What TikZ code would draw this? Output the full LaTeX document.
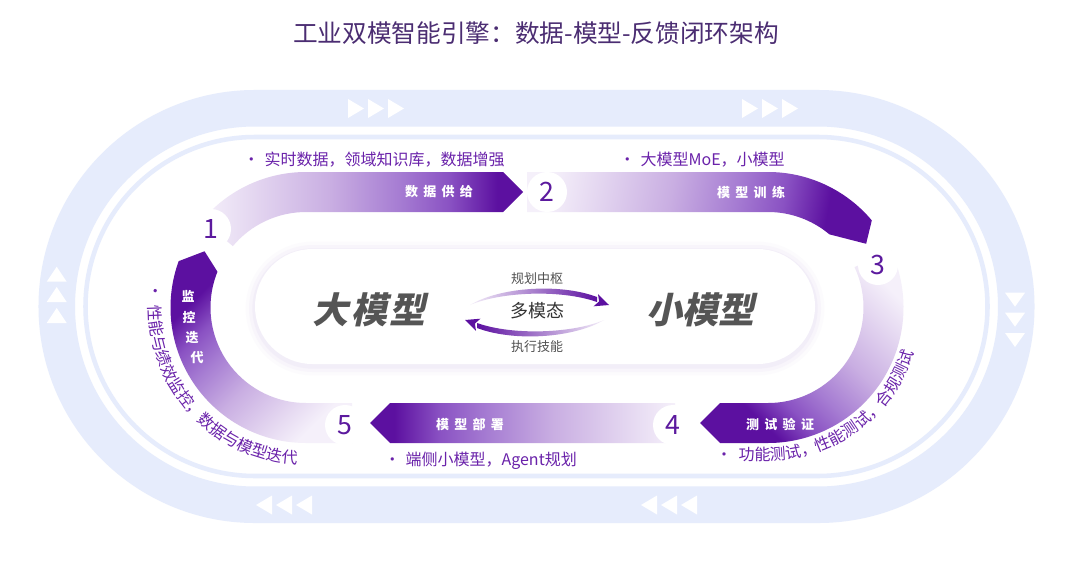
\documentclass[tikz,border=0pt]{standalone}
\usepackage{fontspec}
\setmainfont{Noto Sans CJK SC}
\newfontfamily\modelfont[FakeSlant=0.22]{Noto Sans CJK SC}
\usetikzlibrary{decorations.text,calc}
\definecolor{bandblue}{HTML}{E6ECFC}
\definecolor{segdark}{HTML}{5C10A0}
\definecolor{segdeep}{HTML}{8A52C3}
\definecolor{segmid}{HTML}{A57BD2}
\definecolor{segsoft}{HTML}{C9AEE2}
\definecolor{segpale}{HTML}{E5D8F1}
\definecolor{seglight}{HTML}{F5F0FA}
\definecolor{titlecol}{HTML}{4B2D72}
\definecolor{bulletcol}{HTML}{6A22AA}
\definecolor{numcol}{HTML}{5C1A9E}
\definecolor{modelgray}{HTML}{555555}
\definecolor{textgray}{HTML}{505050}
\definecolor{shadowcol}{HTML}{E4DBF1}
\pgfdeclarehorizontalshading{segshade}{100bp}{color(0bp)=(seglight); color(25bp)=(seglight); color(32.5bp)=(segpale); color(45bp)=(segsoft); color(56bp)=(segmid); color(63.5bp)=(segdeep); color(71bp)=(segdark); color(100bp)=(segdark)}
\tikzset{
  numcirc/.style={circle, fill=white, minimum size=30pt, inner sep=0pt, text=numcol, font=\fontsize{20}{20}\selectfont},
  seglabel/.style={text=white, inner sep=0pt, font=\fontsize{9.75}{10}\selectfont\bfseries},
  bullettext/.style={text=bulletcol, inner sep=0pt, anchor=west, font=\fontsize{12}{12}\selectfont},
  modeltext/.style={text=modelgray, inner sep=0pt, font=\modelfont\bfseries\fontsize{27}{28}\selectfont},
  centersmall/.style={text=textgray, inner sep=0pt, font=\fontsize{9.75}{10}\selectfont},
  centermid/.style={text=black!80, inner sep=0pt, font=\fontsize{13.5}{14}\selectfont},
  chev/.style={fill=white},
}
\begin{document}
\begin{tikzpicture}[x=0.75pt,y=0.75pt]
\useasboundingbox (0,0) rectangle (1080,-560);
\fill[white] (0,0) rectangle (1080,-560);

% title
\node[text=titlecol, inner sep=0pt, font=\fontsize{18.5}{20}\selectfont] (title) at (536,-33) {工业双模智能引擎：数据-模型-反馈闭环架构};

% outer band
\draw[bandblue, line width=27.4pt] (255,-108.25) -- (818,-108.25) arc[start angle=90,end angle=-90,radius=198.25] -- (255,-504.75) arc[start angle=270,end angle=90,radius=198.25] -- cycle;
\draw[bandblue, line width=3.4pt] (255,-137) -- (818,-137) arc[start angle=90,end angle=-90,radius=169.5] -- (255,-476) arc[start angle=270,end angle=90,radius=169.5] -- cycle;

% chevrons in the band
\foreach \x in {348,368,388,742,762,782} \fill[chev] (\x,-99) -- (\x+16,-108.5) -- (\x,-118) -- cycle;
\foreach \x in {256,276,296,641,661,681} \fill[chev] (\x,-505) -- (\x+16,-495.5) -- (\x+16,-514.5) -- cycle;
\foreach \y in {266.7,287,308} \fill[chev] (56.7,-\y) -- (66.7,-\y-15) -- (46.7,-\y-15) -- cycle;
\foreach \y in {292.7,312.7,333} \fill[chev] (1005,-\y) -- (1025,-\y) -- (1015,-\y-14) -- cycle;

% track centres
\coordinate (Lc) at (306,-307.5);
\coordinate (Rc) at (768,-307.5);

% segment 1
\shade[shading=segshade] ($(Lc)+(140:135.5)$) arc[start angle=140,end angle=90,radius=135.5] -- (503,-172) -- (523,-192) -- (503,-212) -- (306,-212) arc[start angle=90,end angle=140,radius=95.5] -- cycle;
% segment 2
\shade[shading=segshade, shading angle=-10] (527,-172) -- (768,-172) arc[start angle=90,end angle=40,radius=135.5] -- ($(Rc)+(33:117)$) -- ($(Rc)+(50:95.5)$) arc[start angle=50,end angle=90,radius=95.5] -- (527,-212) -- cycle;
% segment 3
\shade[shading=segshade, shading angle=225] ($(Rc)+(25:135.5)$) arc[start angle=25,end angle=-90,radius=135.5] -- (720,-443) -- (700,-423) -- (720,-403) -- (768,-403) arc[start angle=-90,end angle=25,radius=95.5] -- cycle;
% segment 4
\shade[shading=segshade, shading angle=180] (675,-403) -- (390,-403) -- (370,-423) -- (390,-443) -- (675,-443) -- cycle;
% segment 5
\shade[shading=segshade, shading angle=135] (352,-403) -- (352,-443) -- (306,-443) arc[start angle=270,end angle=160,radius=135.5] -- ($(Lc)+(151:116)$) -- ($(Lc)+(158:95.5)$) arc[start angle=158,end angle=270,radius=95.5] -- cycle;

% segment labels
\node[seglabel] (l1) at (439,-192) {数\hspace{4pt}据\hspace{4pt}供\hspace{4pt}给};
\node[seglabel] (l2) at (751,-192) {模\hspace{4pt}型\hspace{4pt}训\hspace{4pt}练};
\node[seglabel] (l3) at (780,-424) {测\hspace{4pt}试\hspace{4pt}验\hspace{4pt}证};
\node[seglabel] (l4) at (470,-424) {模\hspace{4pt}型\hspace{4pt}部\hspace{4pt}署};
\node[seglabel] (v1) at (188,-296) {监};
\node[seglabel] (v2) at (189,-317) {控};
\node[seglabel] (v3) at (192,-338) {迭};
\node[seglabel] (v4) at (197,-358) {代};

% number circles
\node[numcirc] (n1) at (211,-229) {1};
\node[numcirc] (n2) at (547,-192) {2};
\node[numcirc] (n3) at (878,-265) {3};
\node[numcirc] (n4) at (673,-425) {4};
\node[numcirc] (n5) at (345,-425) {5};

% bullet texts
\node[bullettext] (b1) at (243,-160) {•\hspace{4pt}实时数据，领域知识库，数据增强};
\node[bullettext] (b2) at (619,-160) {•\hspace{4pt}大模型MoE，小模型};
\node[bullettext] (b3) at (384,-461) {•\hspace{4pt}端侧小模型，Agent规划};
\path[decorate, decoration={text along path, text align=left, text={|\fontsize{12}{12}\selectfont\color{bulletcol}|•{\hspace{5pt}}性能与绩效监控，数据与模型迭代}}] ($(Lc)+(171:157)$) arc[start angle=171,end angle=290,radius=157];
\path[decorate, decoration={text along path, text align=left, text={|\fontsize{12}{12}\selectfont\color{bulletcol}|•{\hspace{5pt}}功能测试，性能测试，合规测试}}] (716,-460.5) -- (768,-460.5) arc[start angle=270,end angle=375,radius=153];

% centre pill
\foreach \w/\o in {14/0.10,9/0.16,4/0.25}
  \draw[shadowcol, line width=\w pt, opacity=\o, rounded corners=43.1pt] (255,-251) rectangle (815,-366);
\fill[white, rounded corners=43.1pt] (255,-249) rectangle (815,-364);

\node[modeltext] (big) at (369,-310) {大\hspace{2pt}模\hspace{2pt}型};
\node[modeltext] (small) at (700,-310) {小模型};
\node[centersmall] (plan) at (537,-279) {规划中枢};
\node[centermid] (multi) at (537,-311) {多模态};
\node[centersmall] (exec) at (537,-347) {执行技能};

% double arrows
\shade[left color=seglight, right color=segdark] (470,-305) .. controls (500,-287) and (560,-283) .. (597,-297) -- (597,-302) .. controls (560,-289) and (500,-292) .. (470,-305) -- cycle;
\fill[segdark] (609,-305) -- (598,-294.1) -- (599.1,-301.4) -- (593.6,-306.3) -- cycle;
\shade[left color=segdark, right color=seglight] (604,-320) .. controls (574,-338) and (514,-342) .. (477,-328) -- (477,-323) .. controls (514,-336) and (574,-333) .. (604,-320) -- cycle;
\fill[segdark] (465,-320) -- (476,-330.9) -- (474.9,-323.6) -- (480.4,-318.7) -- cycle;
\end{tikzpicture}
\end{document}
